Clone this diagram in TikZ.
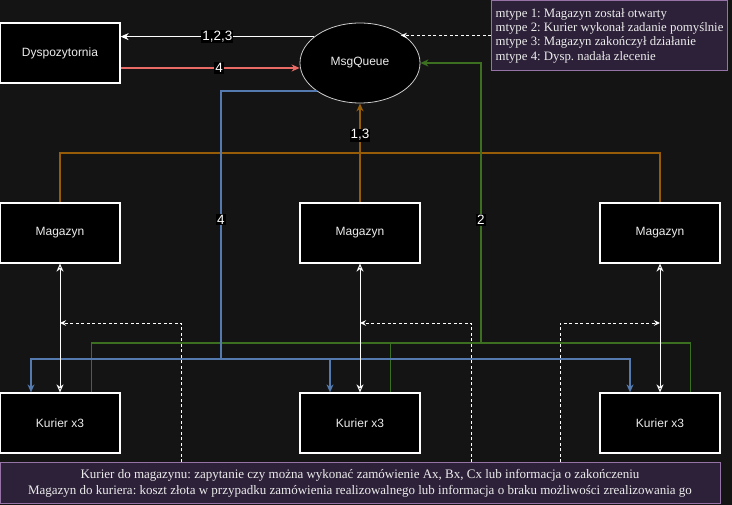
\documentclass[tikz,border=0pt]{standalone}
\usepackage{fontspec}
\setmainfont{Liberation Serif}
\newfontfamily\boxfont{Liberation Sans}
\usepackage{tikz}
\usetikzlibrary{positioning,shapes.geometric,arrows.meta}
\definecolor{bgcol}{RGB}{20,20,20}
\definecolor{txtgray}{RGB}{236,236,236}
\definecolor{notefill}{RGB}{44,33,56}
\definecolor{notedraw}{RGB}{150,115,166}
\definecolor{msggreen}{RGB}{60,112,32}
\definecolor{msgorange}{RGB}{150,92,8}
\definecolor{msgblue}{RGB}{84,122,176}
\definecolor{msgred}{RGB}{234,107,102}
\frenchspacing

\begin{document}
\begin{tikzpicture}[x=1pt,y=-1pt,on grid,node distance=300pt,
    >={Stealth[length=8pt,width=7pt,inset=2.5pt]},
    box/.style={draw=white,line width=1.2pt,fill=black,minimum width=120pt,minimum height=60pt,
      inner sep=0pt,text=txtgray,font=\boxfont\fontsize{12}{14}\selectfont},
    queue/.style={ellipse,draw=white!80!black,line width=0.8pt,fill=black,minimum width=120pt,
      minimum height=80pt,inner sep=0pt,text=txtgray,font=\boxfont\fontsize{12}{14}\selectfont},
    note/.style={draw=notedraw,line width=1pt,fill=notefill,text=txtgray,inner sep=0pt},
    lbl/.style={fill=black,text=white,inner sep=1pt,font=\boxfont\fontsize{13.5}{14}\selectfont},
    wline/.style={draw=white,line width=1pt},
    dline/.style={draw=white,line width=0.9pt,dash pattern=on 3pt off 2.5pt,
      -{Stealth[length=6pt,width=5.5pt,inset=2pt]}},
    gline/.style={draw=msggreen,line width=1.4pt},
    oline/.style={draw=msgorange,line width=1.4pt},
    bline/.style={draw=msgblue,line width=1.4pt},
    rline/.style={draw=msgred,line width=1.2pt}]

  \path[use as bounding box,fill=bgcol] (0,0) rectangle (732,505);

  \node[box] (disp) at (60,53) {Dyspozytornia};
  \node[queue] (queue) at (360,63) {MsgQueue};
  \node[box] (mag2) at (360,233) {Magazyn};
  \node[box] (mag1) [left=of mag2] {Magazyn};
  \node[box] (mag3) [right=of mag2] {Magazyn};
  \node[box] (kur1) [below=190pt of mag1] {Kurier x3};
  \node[box] (kur2) [below=190pt of mag2] {Kurier x3};
  \node[box] (kur3) [below=190pt of mag3] {Kurier x3};

  \node[note,anchor=north west,minimum width=236pt,minimum height=70pt,
    align=left,font=\fontsize{12.8}{14.3}\selectfont] (legend) at (491,0)
    {mtype 1: Magazyn został otwarty\\
     mtype 2: Kurier wykonał zadanie pomyślnie\\
     mtype 3: Magazyn zakończył działanie\\
     mtype 4: Dysp. nadała zlecenie};
  \node[note,minimum width=720pt,minimum height=40pt,align=center,
    font=\fontsize{13}{16}\selectfont] (info) at (360,483)
    {Kurier do magazynu: zapytanie czy można wykonać zamówienie Ax, Bx, Cx lub informacja o zakończeniu\\
     Magazyn do kuriera: koszt złota w przypadku zamówienia realizowalnego lub informacja o braku możliwości zrealizowania go};

  \coordinate (gbus) at (481,343);
  \coordinate (bbus) at (221,359);
  \coordinate (ask1) at (181,323);
  \coordinate (ask2) at (471,323);
  \coordinate (ask3) at (560,323);

  \draw[oline] (mag1.north) -- ++(0,-49.5) -| (mag3.north);
  \draw[oline,->] (mag2.north) -- node[lbl,pos=0.68] {1,3} (queue.south);

  \draw[gline] ([xshift=-29pt]kur1.north east) |- (gbus);
  \draw[gline] ([xshift=-30pt]kur2.north east) |- (gbus);
  \draw[gline] ([xshift=-30pt]kur3.north east) |- (gbus);
  \draw[gline,->] (gbus) |- node[lbl,pos=0.22] {2} (queue.east);

  \draw[bline] (queue.213) -| node[lbl,pos=0.74] {4} (bbus);
  \draw[bline,->] (bbus) -| ([xshift=-29pt]kur1.north);
  \draw[bline,->] (bbus) -| ([xshift=-30pt]kur2.north);
  \draw[bline,->] (bbus) -| ([xshift=-30pt]kur3.north);

  \draw[wline,->] (queue.150) -- node[lbl] {1,2,3} (queue.150 -| disp.east);
  \draw[rline,->] ([yshift=-15pt]disp.east) -- node[lbl,pos=0.55] {4} ([yshift=-15pt]disp.east -| queue.west);
  \draw[dline] (legend.west) -- (legend.west -| queue.36);

  \path[wline,<->]
    (mag1) edge (kur1)
    (mag2) edge (kur2)
    (mag3) edge (kur3);

  \draw[dline] (info.north -| ask1) |- (mag1.south |- ask1);
  \draw[dline] (info.north -| ask2) |- (mag2.south |- ask2);
  \draw[dline] (info.north -| ask3) |- (mag3.south |- ask3);
\end{tikzpicture}
\end{document}
